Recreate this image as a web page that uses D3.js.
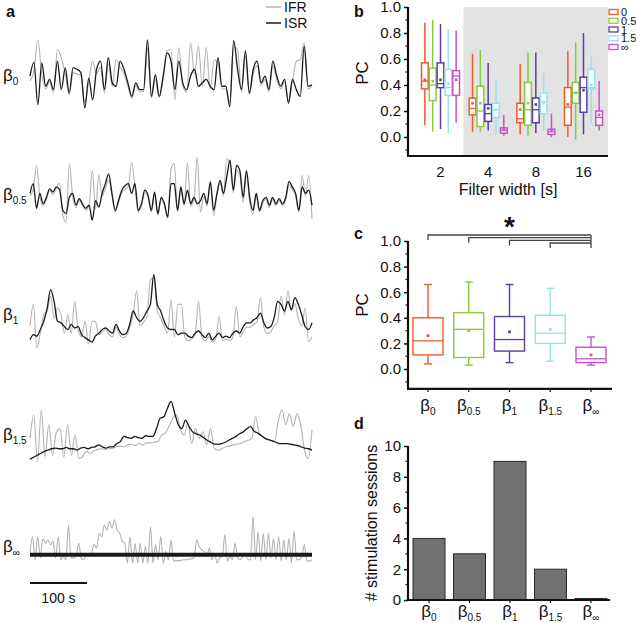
<!DOCTYPE html>
<html><head><meta charset="utf-8">
<script src="https://cdn.jsdelivr.net/npm/d3@7"></script>
<style>
body{margin:0;background:#fff}
svg{display:block}
text{font-family:"Liberation Sans",Arial,Helvetica,sans-serif;fill:#111}
</style></head>
<body><svg id="chart" width="636" height="623"></svg>
<script>
// ---------------- DATA ----------------
const traceKeys = ["0", "0.5", "1", "1.5", "∞"];
const traceSeconds = 495;
const scaleBarSeconds = 100;

const isr0 = [47,67,5,66,32,42,27,69,27,59,22,59,57,52,0,44,12,57,69,27,74,37,32,69,57,37,17,37,27,27,100,17,49,17,47,81,69,27,69,37,27,47,57,32,37,42,32,27,74,32,32,2,99,57,27,84,22,57,69,37,47,27,69,47,32,42,7,42,27,17,91,32,34];
const ifr0 = [40,55,100,50,28,38,22,86,74,50,20,52,50,48,8,40,69,50,60,22,65,32,71,60,50,32,14,33,24,24,88,15,42,15,42,84,86,12,89,32,24,96,50,91,32,89,28,71,66,28,28,8,90,86,24,76,20,50,62,33,42,24,62,42,28,38,10,38,69,71,96,28,32];

const isr05 = [44,59,21,44,28,38,51,46,54,50,18,13,38,44,26,36,28,21,26,3,33,23,44,59,74,44,18,33,49,56,59,44,59,18,28,49,41,18,46,13,38,28,8,59,59,18,54,28,49,28,38,28,33,44,28,62,18,44,64,44,69,95,49,87,79,38,79,38,18,44,18,33,38,26,38,28,36,28,38,62,54,44,18,54,44,49,26];
const ifr05 = [40,50,87,40,25,35,48,42,52,60,10,0,90,40,22,33,25,18,25,79,20,72,40,52,65,40,15,30,45,50,55,92,55,15,25,45,38,15,42,10,35,25,5,82,90,15,50,25,92,25,35,99,15,40,25,58,10,40,60,40,97,90,45,80,72,30,72,30,12,40,15,30,35,22,35,25,33,25,35,58,50,40,15,72,40,72,5];

const isr1 = [11,18,16,25,36,54,79,63,36,34,29,25,32,27,29,18,14,11,8,16,20,25,27,23,20,32,23,18,20,32,50,41,36,41,50,59,99,59,50,36,27,25,25,18,20,20,16,14,20,23,18,14,20,11,16,20,14,16,14,20,23,20,29,34,34,38,41,47,34,27,29,41,63,59,50,63,52,68,59,45,29,25,34];
const ifr1 = [30,59,0,20,45,50,70,40,54,45,20,45,20,63,25,15,36,5,36,36,18,22,25,18,15,28,18,14,16,28,45,77,30,35,42,92,95,50,40,30,20,65,15,59,59,15,10,12,18,63,15,10,15,8,12,43,10,12,10,15,56,15,22,28,28,32,35,68,28,20,22,30,35,70,45,77,50,60,40,30,54,9,15];

const isr15 = [9,12,15,18,21,23,25,26,25,25,27,25,25,23,26,27,25,27,28,31,28,26,28,28,33,36,44,42,41,44,42,41,45,44,44,56,72,74,87,98,80,62,56,69,59,51,48,46,42,38,35,32,32,33,35,38,41,44,48,51,56,59,52,49,45,41,39,37,35,33,33,33,32,31,30,28,26,25,23];
const ifr15 = [41,77,5,85,13,62,15,50,56,12,62,15,46,10,13,21,18,22,24,25,24,25,26,28,29,28,31,32,30,33,31,34,34,35,36,46,49,60,72,77,55,46,64,33,56,41,51,31,56,26,23,25,28,29,31,32,33,36,38,41,74,49,44,40,38,36,67,85,62,79,59,79,62,23,10,54];

const isrInf = [17.6,17.6,17.6,17.6,17.6];
const ifrInf = [21,56,7,56,11,52,42,49,39,46,11,56,7,14,7,81,11,11,14,42,11,7,18,15,21,39,32,63,56,81,70,88,74,92,70,63,46,42,0,56,0,42,0,42,0,35,0,77,0,39,7,56,0,25,7,49,4,5,5,6,7,7,8,9,11,49,35,28,25,14,32,7,21,0,11,14,60,4,14,7,42,11,7,14,21,7,7,99,7,67,4,63,7,63,11,52,7,56,4,49,7,52,0,67,7,7,12,39,4,4,7];

const isrTraces = [isr0, isr05, isr1, isr15, isrInf];
const ifrTraces = [ifr0, ifr05, ifr1, ifr15, ifrInf];

// Panel b: per filter width, per beta: [whiskerLow, q1, median, q3, whiskerHigh, mean]
const filterWidths = ["2", "4", "8", "16"];
const betaKeys = ["0", "0.5", "1", "1.5", "∞"];
const betaColors = ["#f05a2a", "#86cc3c", "#5b3da6", "#97e2e6", "#c652c9"];
const boxW2  = [[0.09,0.37,0.43,0.57,0.88,0.44],[0.04,0.28,0.40,0.53,0.90,0.43],[0.06,0.38,0.41,0.57,0.87,0.44],[0.03,0.32,0.38,0.52,0.83,0.41],[0.11,0.32,0.47,0.51,0.82,0.44]];
const boxW4  = [[0.04,0.17,0.22,0.30,0.64,0.26],[0.04,0.08,0.20,0.39,0.67,0.26],[0.05,0.12,0.18,0.25,0.57,0.22],[0.02,0.15,0.21,0.26,0.44,0.21],[0.01,0.03,0.05,0.07,0.17,0.06]];
const boxW8  = [[0.02,0.11,0.14,0.26,0.56,0.21],[0.01,0.09,0.21,0.42,0.65,0.26],[0.03,0.11,0.21,0.30,0.65,0.25],[0.05,0.18,0.27,0.34,0.49,0.26],[0.00,0.02,0.04,0.06,0.18,0.05]];
const boxW16 = [[0.00,0.09,0.23,0.38,0.66,0.25],[-0.02,0.26,0.34,0.42,0.73,0.34],[0.02,0.19,0.38,0.46,0.80,0.36],[0.10,0.37,0.38,0.52,0.62,0.40],[0.05,0.09,0.15,0.20,0.43,0.17]];
const boxesB = [boxW2, boxW4, boxW8, boxW16];
const shadedFrom = "4";

// Panel c
const cLow  = [0.04, 0.03, 0.05, 0.06, 0.03];
const cQ1   = [0.11, 0.09, 0.14, 0.20, 0.05];
const cMed  = [0.22, 0.31, 0.23, 0.28, 0.08];
const cQ3   = [0.40, 0.44, 0.41, 0.42, 0.17];
const cHigh = [0.66, 0.68, 0.66, 0.63, 0.25];
const cMean = [0.26, 0.30, 0.29, 0.31, 0.11];

// Panel d
const sessions = [4, 3, 9, 2, 0.1];

// ---------------- DRAW ----------------
const svg = d3.select("#chart");
const FONT = 15;

function betaLabel(g, key, x, y, size, sub, anchor) {
  const t = g.append("text").attr("x", x).attr("y", y).attr("font-size", size)
    .attr("text-anchor", anchor || "start");
  t.append("tspan").text("β");
  t.append("tspan").attr("font-size", sub).attr("dy", size * 0.25).text(key);
  return t;
}

// ===== Panel a =====
const ga = svg.append("g");
ga.append("text").attr("x", 6).attr("y", 17).attr("font-size", 16).attr("font-weight", "bold").text("a");
const xt = d3.scaleLinear([0, traceSeconds], [30, 312]);
const bands = [[108, 40], [222, 157], [348, 274], [465, 400], [563, 516]];
const labelY = [81, 200, 320, 440, 552];

traceKeys.forEach((k, i) => {
  const yv = d3.scaleLinear([0, 100], bands[i]);
  const mk = arr => d3.line()
    .x((d, j) => xt(j * traceSeconds / (arr.length - 1)))
    .y(d => yv(d))
    .curve(d3.curveMonotoneX);
  ga.append("path").datum(ifrTraces[i]).attr("d", mk(ifrTraces[i]))
    .attr("fill", "none").attr("stroke", "#b3b3b3").attr("stroke-width", 1.1);
  ga.append("path").datum(isrTraces[i]).attr("d", mk(isrTraces[i]))
    .attr("fill", "none").attr("stroke", "#1a1a1a")
    .attr("stroke-width", k === "∞" ? 4 : 1.3).attr("stroke-linejoin", "round");
  betaLabel(ga, k, 3, labelY[i], 17, 10);
});
// legend
ga.append("line").attr("x1", 266).attr("x2", 281).attr("y1", 7).attr("y2", 7).attr("stroke", "#b3b3b3").attr("stroke-width", 1.5);
ga.append("text").attr("x", 284).attr("y", 12).attr("font-size", 14).text("IFR");
ga.append("line").attr("x1", 266).attr("x2", 281).attr("y1", 23).attr("y2", 23).attr("stroke", "#1a1a1a").attr("stroke-width", 1.5);
ga.append("text").attr("x", 284).attr("y", 28).attr("font-size", 14).text("ISR");
// scale bar
ga.append("line").attr("x1", xt(0)).attr("x2", xt(scaleBarSeconds)).attr("y1", 583).attr("y2", 583)
  .attr("stroke", "#111").attr("stroke-width", 2);
ga.append("text").attr("x", (xt(0) + xt(scaleBarSeconds)) / 2).attr("y", 603).attr("font-size", 14)
  .attr("text-anchor", "middle").text(scaleBarSeconds + " s");

// common y axis builder
function yAxis(g, y, x0, lo, hi, major, minor, fmt) {
  const ax = g.append("g").attr("transform", `translate(${x0},0)`);
  ax.call(d3.axisLeft(y).tickValues(major).tickFormat(fmt).tickSize(4).tickPadding(3));
  ax.select(".domain").remove();
  ax.selectAll(".tick line").attr("stroke", "#111").attr("stroke-width", 1.5);
  ax.selectAll(".tick text").attr("font-size", FONT).attr("font-family", "Liberation Sans, Arial, sans-serif").attr("fill", "#111");
  minor.forEach(v => ax.append("line").attr("x1", -2.5).attr("x2", 0).attr("y1", y(v)).attr("y2", y(v))
    .attr("stroke", "#111").attr("stroke-width", 1.2));
  ax.append("line").attr("x1", 0).attr("x2", 0).attr("y1", y(lo)).attr("y2", y(hi))
    .attr("stroke", "#111").attr("stroke-width", 2.2);
  return ax;
}

// ===== Panel b =====
const gb = svg.append("g");
gb.append("text").attr("x", 354).attr("y", 17).attr("font-size", 16).attr("font-weight", "bold").text("b");
const yb = d3.scaleLinear([0, 1], [137, 7]);
const xb = d3.scalePoint(filterWidths, [440, 583]);
const xsb = d3.scaleBand(betaKeys, [-18.5, 19.5]).paddingInner(0.14);
const bLo = -0.146;
gb.append("rect").attr("x", (xb("2") + xb(shadedFrom)) / 2 - 0.5).attr("y", yb(1))
  .attr("width", 608 - ((xb("2") + xb(shadedFrom)) / 2 - 0.5)).attr("height", yb(bLo) - yb(1))
  .attr("fill", "#e3e3e3");
filterWidths.forEach((fw, gi) => {
  betaKeys.forEach((bk, si) => {
    const s = boxesB[gi][si];
    const cx = xb(fw) + xsb(bk) + xsb.bandwidth() / 2;
    const w = xsb.bandwidth();
    const col = betaColors[si];
    const g = gb.append("g");
    g.append("line").attr("x1", cx).attr("x2", cx).attr("y1", yb(s[0])).attr("y2", yb(s[4]))
      .attr("stroke", col).attr("stroke-width", 1.5);
    g.append("rect").attr("x", cx - w / 2).attr("y", yb(s[3])).attr("width", w).attr("height", yb(s[1]) - yb(s[3]))
      .attr("fill", "#fff").attr("stroke", col).attr("stroke-width", 1.5);
    g.append("line").attr("x1", cx - w / 2).attr("x2", cx + w / 2).attr("y1", yb(s[2])).attr("y2", yb(s[2]))
      .attr("stroke", col).attr("stroke-width", 1.3);
    g.append("rect").attr("x", cx - 1.3).attr("y", yb(s[5]) - 1.3).attr("width", 2.6).attr("height", 2.6).attr("fill", col);
  });
});
yAxis(gb, yb, 408, bLo, 1, [0, 0.2, 0.4, 0.6, 0.8, 1.0], [-0.1, 0.1, 0.3, 0.5, 0.7, 0.9], d3.format(".1f"));
gb.append("line").attr("x1", 407).attr("x2", 608).attr("y1", yb(bLo)).attr("y2", yb(bLo)).attr("stroke", "#111").attr("stroke-width", 2.2);
const axb = gb.append("g").attr("transform", `translate(0,${yb(bLo)})`)
  .call(d3.axisBottom(xb).tickSize(0).tickPadding(10));
axb.select(".domain").remove();
axb.selectAll("text").attr("font-size", FONT).attr("font-family", "Liberation Sans, Arial, sans-serif").attr("fill", "#111");
gb.append("text").attr("x", 508).attr("y", 195).attr("font-size", 16).attr("text-anchor", "middle").text("Filter width [s]");
gb.append("text").attr("transform", "translate(368,73) rotate(-90)").attr("font-size", 17).attr("text-anchor", "middle").text("PC");
// legend b
const ly = d3.scalePoint(betaKeys, [12, 47]);
betaKeys.forEach((bk, i) => {
  gb.append("rect").attr("x", 609).attr("y", ly(bk) - 2.5).attr("width", 9).attr("height", 5)
    .attr("fill", "none").attr("stroke", betaColors[i]).attr("stroke-width", 1.3);
  gb.append("text").attr("x", 621).attr("y", ly(bk) + 4).attr("font-size", 11).text(bk);
});

// ===== Panel c =====
const gc = svg.append("g");
gc.append("text").attr("x", 354).attr("y", 239).attr("font-size", 16).attr("font-weight", "bold").text("c");
const yc = d3.scaleLinear([0, 1], [369, 241]);
const xc = d3.scalePoint(betaKeys, [428, 591]);
const cLoDom = -0.156;
const boxWc = 30, capW = 8;
betaKeys.forEach((bk, i) => {
  const cx = xc(bk), col = betaColors[i];
  const g = gc.append("g");
  g.append("line").attr("x1", cx).attr("x2", cx).attr("y1", yc(cLow[i])).attr("y2", yc(cHigh[i])).attr("stroke", col).attr("stroke-width", 1.4);
  [cLow[i], cHigh[i]].forEach(v => g.append("line").attr("x1", cx - capW / 2).attr("x2", cx + capW / 2)
    .attr("y1", yc(v)).attr("y2", yc(v)).attr("stroke", col).attr("stroke-width", 1.4));
  g.append("rect").attr("x", cx - boxWc / 2).attr("y", yc(cQ3[i])).attr("width", boxWc).attr("height", yc(cQ1[i]) - yc(cQ3[i]))
    .attr("fill", "#fff").attr("stroke", col).attr("stroke-width", 1.4);
  g.append("line").attr("x1", cx - boxWc / 2).attr("x2", cx + boxWc / 2).attr("y1", yc(cMed[i])).attr("y2", yc(cMed[i]))
    .attr("stroke", col).attr("stroke-width", 1.3);
  g.append("rect").attr("x", cx - 1.4).attr("y", yc(cMean[i]) - 1.4).attr("width", 2.8).attr("height", 2.8).attr("fill", col);
});
yAxis(gc, yc, 408, cLoDom, 1, [0, 0.2, 0.4, 0.6, 0.8, 1.0], [-0.1, 0.1, 0.3, 0.5, 0.7, 0.9], d3.format(".1f"));
gc.append("line").attr("x1", 407).attr("x2", 612).attr("y1", yc(cLoDom)).attr("y2", yc(cLoDom)).attr("stroke", "#111").attr("stroke-width", 2.2);
betaKeys.forEach(bk => {
  gc.append("line").attr("x1", xc(bk)).attr("x2", xc(bk)).attr("y1", yc(cLoDom)).attr("y2", yc(cLoDom) + 3).attr("stroke", "#111").attr("stroke-width", 1.2);
  betaLabel(gc, bk, xc(bk), 411, 17, 10, "middle");
});
gc.append("text").attr("transform", "translate(368,305) rotate(-90)").attr("font-size", 17).attr("text-anchor", "middle").text("PC");
// significance brackets
const sigY = [235, 237.7, 240.4, 243];
betaKeys.slice(0, 4).forEach((bk, i) => {
  gc.append("path").attr("d", `M${xc(bk)},${sigY[i] + 5}V${sigY[i]}H${xc("∞")}`)
    .attr("fill", "none").attr("stroke", "#444").attr("stroke-width", 1.3);
});
gc.append("line").attr("x1", xc("∞")).attr("x2", xc("∞")).attr("y1", sigY[0]).attr("y2", sigY[3] + 5).attr("stroke", "#444").attr("stroke-width", 1.3);
gc.append("text").attr("x", xc("1")).attr("y", 236).attr("font-size", 28).attr("font-weight", "bold").attr("text-anchor", "middle").text("*");

// ===== Panel d =====
const gd = svg.append("g");
gd.append("text").attr("x", 354).attr("y", 429).attr("font-size", 16).attr("font-weight", "bold").text("d");
const yd = d3.scaleLinear([0, 10], [600, 446]);
const xd = d3.scalePoint(betaKeys, [429, 591]);
const barW = 32;
gd.selectAll("rect.bar").data(sessions).join("rect").attr("class", "bar")
  .attr("x", (d, i) => xd(betaKeys[i]) - barW / 2).attr("y", d => yd(d))
  .attr("width", barW).attr("height", d => yd(0) - yd(d))
  .attr("fill", "#717171").attr("stroke", "#2a2a2a").attr("stroke-width", 1);
yAxis(gd, yd, 408, 0, 10, [0, 2, 4, 6, 8, 10], [1, 3, 5, 7, 9], d3.format("d"));
gd.append("line").attr("x1", 407).attr("x2", 610).attr("y1", yd(0)).attr("y2", yd(0)).attr("stroke", "#111").attr("stroke-width", 2.2);
betaKeys.forEach(bk => {
  gd.append("line").attr("x1", xd(bk)).attr("x2", xd(bk)).attr("y1", yd(0)).attr("y2", yd(0) + 3).attr("stroke", "#111").attr("stroke-width", 1.2);
  betaLabel(gd, bk, xd(bk), 617, 17, 10, "middle");
});
gd.append("text").attr("transform", "translate(377,523) rotate(-90)").attr("font-size", 16).attr("text-anchor", "middle").text("# stimulation sessions");
</script></body></html>
